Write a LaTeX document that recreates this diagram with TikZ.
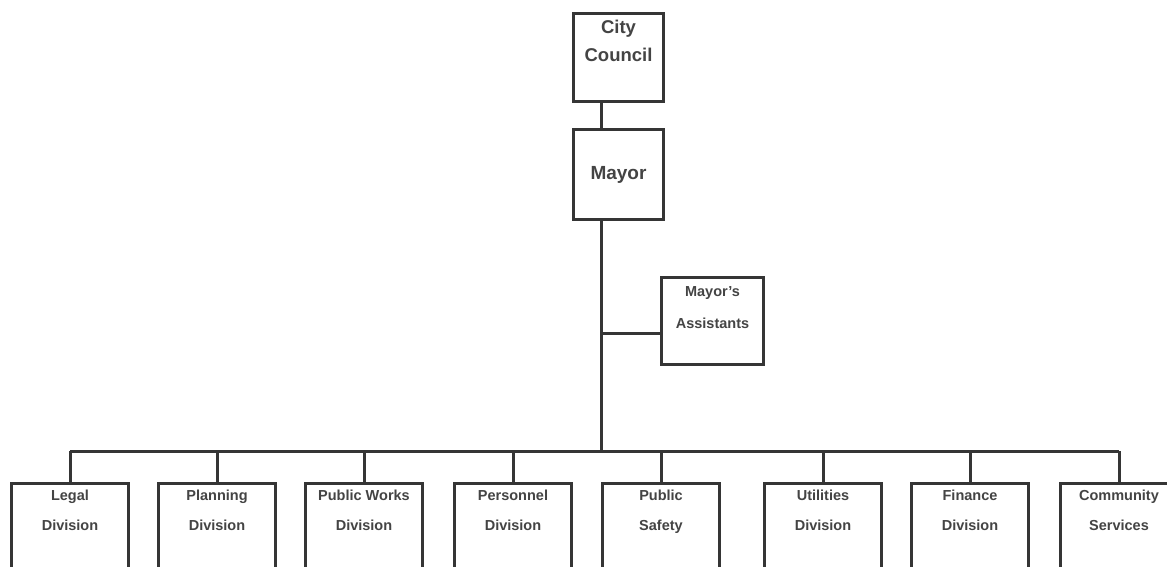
\documentclass[tikz,border=0pt]{standalone}
\usepackage{fontspec}
\setmainfont{Liberation Sans}
\definecolor{linec}{HTML}{353535}
\definecolor{textc}{HTML}{444444}
\tikzset{
  orgbox/.style={draw=linec, line width=3pt, inner sep=0pt, anchor=north west, text=textc, font=\bfseries},
  conn/.style={draw=linec, line width=3pt},
}
\begin{document}
\begin{tikzpicture}[x=1pt,y=-1pt]
\clip (0,0) rectangle (1167,567);
\fill[white] (0,0) rectangle (1167,567);
% top
\node[orgbox, font=\bfseries\fontsize{18.5}{21}\selectfont] (cc) at (572,12) {\parbox[t][88pt][t]{90pt}{\centering\vspace*{7pt}City\\[7pt]Council}};
\node[orgbox, minimum width=90pt, minimum height=90pt, font=\bfseries\fontsize{19}{22}\selectfont] (mayor) at (572,128) {Mayor};
\node[orgbox, font=\bfseries\fontsize{14.5}{17}\selectfont] (asst) at (660,276) {\parbox[t][87pt][t]{102pt}{\centering\vspace*{9pt}Mayor's\\[15pt]Assistants}};
% bottom
\foreach \nm/\x/\a/\b in {legal/10/Legal/Division, plan/157/Planning/Division, pw/304/Public Works/Division, pers/453/Personnel/Division, ps/601/Public/Safety, util/763/Utilities/Division, fin/910/Finance/Division, comm/1059/Community/Services}{
  \node[orgbox, font=\bfseries\fontsize{14.5}{17}\selectfont] (\nm) at (\x,482) {\parbox[t][110pt][t]{117pt}{\centering\vspace*{6pt}\a\\[13pt]\b}};
}
\coordinate (spine) at (601,0);
\coordinate (bus) at (0,451);
\coordinate (ajoin) at (601,333);
\draw[conn] (cc.south -| spine) -- (mayor.north -| spine);
\draw[conn] (mayor.south -| spine) -- (spine |- bus);
\draw[conn] (ajoin) -- (ajoin -| asst.west);
\draw[conn] (legal.north |- bus) -- (comm.north |- bus);
\foreach \nm in {legal,plan,pw,pers,ps,util,fin,comm}{
  \draw[conn] (\nm.north) -- (\nm.north |- bus);
}
\end{tikzpicture}
\end{document}
